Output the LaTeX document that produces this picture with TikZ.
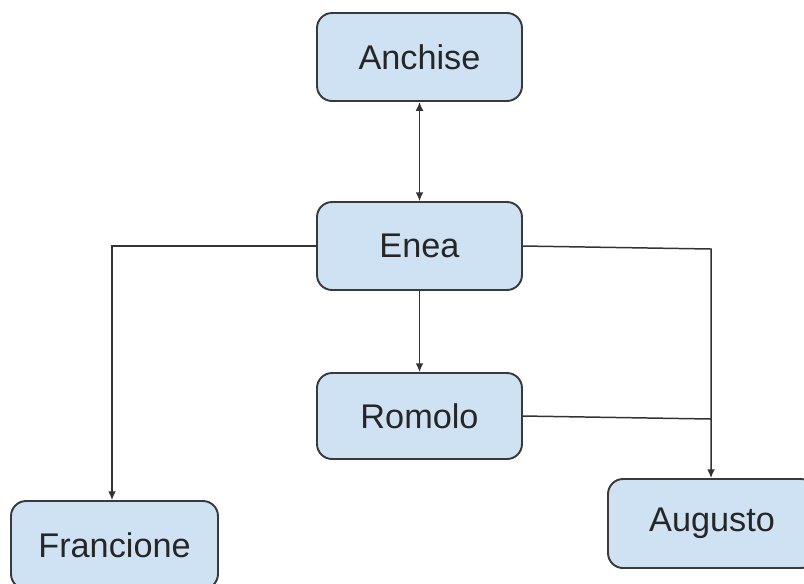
\documentclass[tikz,border=0pt]{standalone}
\usepackage{fontspec}
\setmainfont{Liberation Sans}
\usetikzlibrary{arrows.meta}
\definecolor{boxfill}{HTML}{CFE2F3}
\definecolor{boxline}{HTML}{3A3A3A}
\definecolor{linecol}{HTML}{333333}
\begin{document}
\begin{tikzpicture}[x=0.02cm,y=-0.02cm,
  person/.style={draw=boxline,line width=1.1pt,fill=boxfill,rounded corners=0.3cm,
    minimum width=4.1cm,minimum height=1.76cm,inner sep=0pt,
    font=\fontsize{19.5}{23}\selectfont,text=black!85},
  link/.style={draw=linecol,line width=0.85pt},
  tip/.style={-{Latex[length=5pt,width=4.5pt]}}]
\useasboundingbox (0,0) rectangle (804,583);
\clip (0,0) rectangle (804,583);
\node[person] (anchise) at (419.5,57) {Anchise};
\node[person] (enea) at (419.5,246) {Enea};
\node[person,minimum height=1.72cm] (romolo) at (419.5,416) {Romolo};
\node[person,minimum width=4.14cm] (francione) at (114.5,545) {Francione};
\node[person,minimum width=4.16cm,minimum height=1.78cm] (augusto) at (712,523.5) {Augusto};
\coordinate (fl) at (112,246);
\coordinate (ar) at (711,249);
\coordinate (jn) at (711,419);
\draw[link,{Latex[length=5pt,width=4.5pt]}-{Latex[length=5pt,width=4.5pt]}] (anchise.south) -- (enea.north);
\draw[link,tip] (enea.south) -- (romolo.north);
\draw[link,tip] (enea.west) -- (fl) -- (fl |- francione.north);
\draw[link,tip] (enea.east) -- (ar) -- (ar |- augusto.north);
\draw[link] (romolo.east) -- (jn);
\end{tikzpicture}
\end{document}
